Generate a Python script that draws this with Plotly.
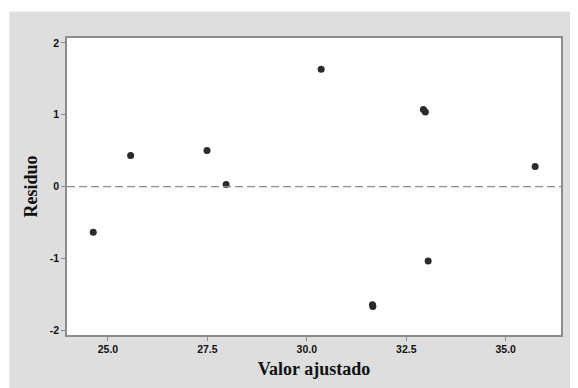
import plotly.graph_objects as go

fitted = [24.63, 25.57, 27.49, 27.97, 30.36, 32.93, 32.98, 35.74, 33.05, 31.65, 31.66]
residuals = [-0.634, 0.433, 0.502, 0.03, 1.634, 1.075, 1.04, 0.282, -1.032, -1.64, -1.665]

x_ticks = [25.0, 27.5, 30.0, 32.5, 35.0]
x_tick_labels = ["25.0", "27.5", "30.0", "32.5", "35.0"]
y_ticks = [-2, -1, 0, 1, 2]
y_tick_labels = ["-2", "-1", "0", "1", "2"]

fig = go.Figure()
fig.add_trace(go.Scatter(
    x=fitted, y=residuals, mode="markers",
    marker=dict(size=7, color="#2a2a2a"),
    showlegend=False,
))

fig.add_hline(y=0, line=dict(color="#8a8a8a", width=1.2, dash="8px,4px"))

# page has an 8px body margin; figure sized to fit inside it
W, H = 570, 380
L, R, T, B = 58.7, 17, 29.7, 50
pw = W - L - R
ph = H - T - B
# thin white strips so the grey frame starts at the reference's offset
fig.add_shape(type="rect", xref="paper", yref="paper",
              x0=-L / pw - 0.05, x1=(1 - L) / pw, y0=-B / ph - 0.05, y1=1 + T / ph + 0.05,
              fillcolor="white", line=dict(width=0), layer="below")
fig.add_shape(type="rect", xref="paper", yref="paper",
              x0=-L / pw - 0.05, x1=1 + R / pw + 0.05, y0=1 + (T - 3) / ph, y1=1 + T / ph + 0.05,
              fillcolor="white", line=dict(width=0), layer="below")

axis_common = dict(
    showgrid=False, zeroline=False, showline=True, mirror=True,
    linecolor="#8c8c8c", linewidth=1.5,
    ticks="outside", ticklen=4, tickcolor="#8c8c8c", tickwidth=1,
    tickfont=dict(family="Liberation Sans, Arial", size=10.5, color="#111111", weight="bold"),
)

fig.update_xaxes(
    range=[23.97, 36.39], tickvals=x_ticks, ticktext=x_tick_labels,
    title=dict(text="Valor ajustado", standoff=8,
               font=dict(family="Liberation Serif, Times New Roman", size=18, color="#111111", weight="bold")),
    **axis_common,
)
fig.update_yaxes(
    range=[-2.062, 2.068], tickvals=y_ticks, ticktext=y_tick_labels,
    title=dict(text="Residuo", standoff=8,
               font=dict(family="Liberation Serif, Times New Roman", size=18, color="#111111", weight="bold")),
    **axis_common,
)

fig.update_layout(
    width=W, height=H,
    margin=dict(l=L, r=R, t=T, b=B),
    paper_bgcolor="#dedede",
    plot_bgcolor="white",
)

fig.write_html("out.html")
